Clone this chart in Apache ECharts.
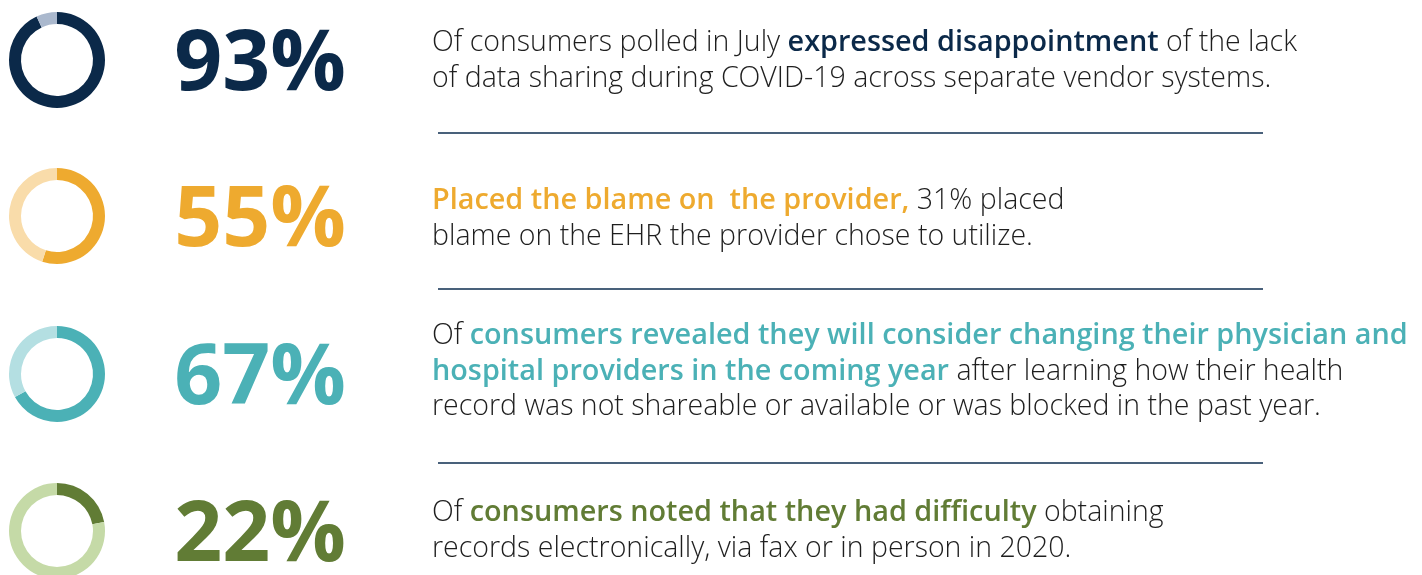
<!DOCTYPE html>
<html>
<head>
<meta charset="utf-8">
<script src="https://cdn.jsdelivr.net/npm/echarts@6/dist/echarts.min.js"></script>
<style>
  html, body { margin: 0; padding: 0; background: #fff; }
  #chart { width: 1422px; height: 575px; }
</style>
</head>
<body>
<div id="chart"></div>
<script>
// ── Stat rows: donut + big percent + description ──

const percents = [93, 55, 67, 22];
const darkColors = ['#0b2949', '#eeaa2f', '#4bb1b6', '#617c35'];
const lightColors = ['#aab8cd', '#f9dcaa', '#b4dfe2', '#c5daa7'];
const rowCenters = [60, 216, 374, 531];
const separatorsY = [133, 289, 463];

// each line is a list of [text, isHighlight]
const descriptions = [
  [
    [['Of consumers polled in July ', 0], ['expressed disappointment', 1], [' of the lack', 0]],
    [['of data sharing during COVID-19 across separate vendor systems.', 0]],
  ],
  [
    [['Placed the blame on  the provider,', 1], [' 31% placed', 0]],
    [['blame on the EHR the provider chose to utilize.', 0]],
  ],
  [
    [['Of ', 0], ['consumers revealed they will consider changing their physician and', 1]],
    [['hospital providers in the coming year', 1], [' after learning how their health', 0]],
    [['record was not shareable or available or was blocked in the past year.', 0]],
  ],
  [
    [['Of ', 0], ['consumers noted that they had difficulty', 1], [' obtaining', 0]],
    [['records electronically, via fax or in person in 2020.', 0]],
  ],
];
const firstBaseline = [53, 211, 346, 523];
const lineGap = 35.8;

const chart = echarts.init(document.getElementById('chart'));

const series = percents.map((p, i) => ({
  type: 'pie',
  center: [57, rowCenters[i]],
  radius: [36, 48],
  startAngle: 90,
  clockwise: true,
  silent: true,
  label: { show: false },
  labelLine: { show: false },
  itemStyle: { borderWidth: 0 },
  emphasis: { disabled: true },
  data: [
    { value: p, itemStyle: { color: darkColors[i] } },
    { value: 100 - p, itemStyle: { color: lightColors[i] } },
  ],
}));

const BODY = 28.5;
const graphics = [];

percents.forEach((p, i) => {
  graphics.push({
    type: 'text',
    x: 346, y: rowCenters[i] + 6,
    style: {
      text: p + '%', align: 'right', verticalAlign: 'middle',
      font: 'bold 84px "Open Sans"', fill: darkColors[i],
    },
  });

  descriptions[i].forEach((line, j) => {
    let txt = '';
    line.forEach(([t, hl]) => { txt += '{' + (hl ? 'b' : 'n') + '|' + t + '}'; });
    graphics.push({
      type: 'text',
      x: 432, y: firstBaseline[i] + j * lineGap - BODY * 0.36,
      style: {
        text: txt, align: 'left', verticalAlign: 'middle',
        rich: {
          n: { fontFamily: 'Open Sans', fontWeight: 300, fontSize: BODY, fill: '#1e1e1e' },
          b: { fontFamily: 'Open Sans', fontWeight: 600, fontSize: BODY + 0.3, fill: darkColors[i] },
        },
      },
    });
  });
});

separatorsY.forEach(y => {
  graphics.push({
    type: 'line',
    shape: { x1: 438, y1: y, x2: 1263, y2: y },
    style: { stroke: '#0d2c4f', lineWidth: 1.6 },
  });
});

chart.setOption({
  backgroundColor: '#fff',
  animation: false,
  series: series,
  graphic: graphics,
});
</script>
</body>
</html>
